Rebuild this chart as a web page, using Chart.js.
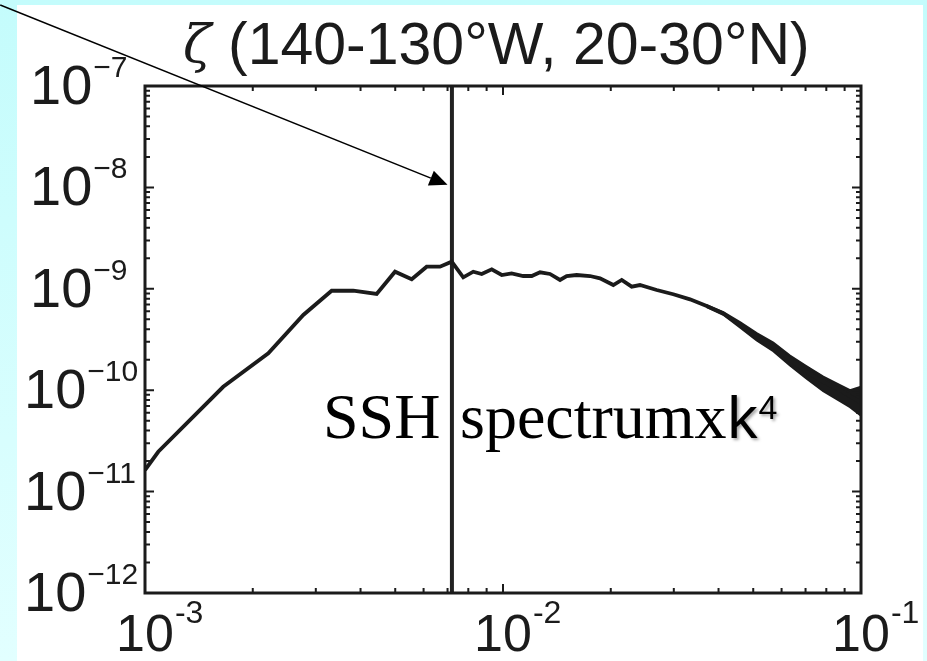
<!DOCTYPE html>
<html>
<head>
<meta charset="utf-8">
<script src="https://cdn.jsdelivr.net/npm/chart.js@4.4.1/dist/chart.umd.min.js"></script>
<style>
  html, body { margin: 0; padding: 0; background: #ffffff; }
  #wrap { width: 927px; height: 661px; }
</style>
</head>
<body>
<div id="wrap"><canvas id="spec" width="927" height="661"></canvas></div>
<script>
// wavenumber (cpkm) and spectrum x k^4
const wavenumber = [1.0e-3, 1.089e-3, 1.654e-3, 2.210e-3, 2.768e-3, 3.322e-3, 3.817e-3, 4.437e-3,
  4.993e-3, 5.559e-3, 6.120e-3, 6.668e-3, 7.19e-3, 7.745e-3, 8.26e-3, 8.72e-3,
  9.30e-3, 9.92e-3, 1.057e-2, 1.139e-2, 1.203e-2, 1.269e-2, 1.353e-2, 1.443e-2,
  1.506e-2, 1.606e-2, 1.750e-2, 1.866e-2, 2.033e-2, 2.146e-2, 2.288e-2, 2.413e-2,
  2.687e-2, 2.990e-2, 3.329e-2, 3.707e-2, 4.124e-2, 4.592e-2, 5.113e-2, 5.689e-2,
  6.333e-2, 7.05e-2, 7.846e-2, 8.738e-2, 9.73e-2, 1.0e-1];
const spectrum = [1.63e-11, 2.47e-11, 1.08e-10, 2.31e-10, 5.52e-10, 9.57e-10, 9.57e-10, 8.89e-10,
  1.475e-9, 1.241e-9, 1.652e-9, 1.652e-9, 1.85e-9, 1.298e-9, 1.475e-9, 1.40e-9,
  1.556e-9, 1.368e-9, 1.42e-9, 1.337e-9, 1.337e-9, 1.455e-9, 1.40e-9, 1.222e-9,
  1.337e-9, 1.368e-9, 1.337e-9, 1.27e-9, 1.089e-9, 1.222e-9, 1.05e-9, 1.089e-9,
  9.73e-10, 8.83e-10, 7.87e-10, 6.76e-10, 5.73e-10, 4.40e-10, 3.37e-10, 2.69e-10,
  1.99e-10, 1.52e-10, 1.21e-10, 1.00e-10, 8.0e-11, 7.48e-11];

// noisy tail at high wavenumber: upper / lower edge of the black band
const bandK = [0.03707, 0.04124, 0.04592, 0.05113, 0.05689, 0.06333, 0.07050, 0.07846, 0.08738, 0.09318, 0.1];
const bandUpper = [6.9e-10, 5.9e-10, 4.7e-10, 3.65e-10, 2.95e-10, 2.2e-10, 1.72e-10, 1.36e-10, 1.12e-10, 1.0e-10, 1.08e-10];
const bandLower = [6.6e-10, 5.55e-10, 4.15e-10, 3.1e-10, 2.42e-10, 1.75e-10, 1.3e-10, 9.8e-11, 7.8e-11, 6.8e-11, 5.6e-11];

// vertical marker line and the arrow pointing at it
const markerK = [7.2e-3, 7.2e-3];
const markerY = [1e-12, 1e-7];
const arrowK = [3.94e-4, 7.0e-3];
const arrowY = [6.3e-7, 1.06e-8];

// tick labels
const xTickValues = [1e-3, 1e-2, 1e-1];
const xTickExps = ['-3', '-2', '-1'];
const yTickValues = [1e-7, 1e-8, 1e-9, 1e-10, 1e-11, 1e-12];
const yTickExps = ['\u22127', '\u22128', '\u22129', '\u221210', '\u221211', '\u221212'];

const INK = '#1b1b1b';

function pts(xs, ys) {
  return xs.map((x, i) => ({ x: x, y: ys[i] }));
}

// minor/major tick values for a log scale
function logTicks(min, max) {
  const out = [];
  for (let e = Math.floor(Math.log10(min)); e <= Math.ceil(Math.log10(max)); e++) {
    for (let m = 1; m <= 9; m++) {
      const v = m * Math.pow(10, e);
      if (v >= min * 0.999 && v <= max * 1.001) out.push({ v: v, major: m === 1 });
    }
  }
  return out;
}

const slidePlugin = {
  id: 'slide',
  beforeDraw(chart) {
    const ctx = chart.ctx;
    const W = chart.width, H = chart.height;
    ctx.save();
    const g = ctx.createLinearGradient(0, 0, 0, H);
    g.addColorStop(0, '#c4fcfc');
    g.addColorStop(1, '#e2ffff');
    ctx.fillStyle = g;
    ctx.fillRect(0, 0, W, H);
    ctx.fillStyle = '#ffffff';
    ctx.fillRect(17, 5, 906, H - 5);
    ctx.restore();
  },
  afterDraw(chart) {
    const ctx = chart.ctx;
    const xs = chart.scales.x, ys = chart.scales.y;
    const a = chart.chartArea;
    ctx.save();

    // ticks pointing inward on all four sides
    ctx.strokeStyle = INK;
    ctx.lineWidth = 2;
    ctx.beginPath();
    logTicks(ys.min, ys.max).forEach(t => {
      const py = ys.getPixelForValue(t.v);
      const len = t.major ? 9 : 5;
      ctx.moveTo(a.left, py); ctx.lineTo(a.left + len, py);
      ctx.moveTo(a.right, py); ctx.lineTo(a.right - len, py);
    });
    logTicks(xs.min, xs.max).forEach(t => {
      const px = xs.getPixelForValue(t.v);
      const len = t.major ? 9 : 5;
      ctx.moveTo(px, a.bottom); ctx.lineTo(px, a.bottom - len);
      ctx.moveTo(px, a.top); ctx.lineTo(px, a.top + len);
    });
    ctx.stroke();

    // frame
    ctx.lineWidth = 3;
    ctx.strokeRect(a.left, a.top, a.right - a.left, a.bottom - a.top);

    // y tick labels 10^n
    ctx.fillStyle = INK;
    ctx.textBaseline = 'alphabetic';
    ctx.textAlign = 'left';
    yTickValues.forEach((v, i) => {
      const py = ys.getPixelForValue(v);
      const left = yTickExps[i].length > 2 ? 24 : 30;
      ctx.font = '56px "Liberation Sans", Arial, sans-serif';
      const w10 = ctx.measureText('10').width;
      ctx.fillText('10', left, py + 18);
      ctx.font = '30px "Liberation Sans", Arial, sans-serif';
      ctx.fillText(yTickExps[i], left + w10 + 1, py - 9);
    });

    // x tick labels 10^n
    xTickValues.forEach((v, i) => {
      const px = xs.getPixelForValue(v);
      ctx.font = '52px "Liberation Sans", Arial, sans-serif';
      const w10 = ctx.measureText('10').width;
      ctx.fillText('10', px - w10 / 2, 651);
      ctx.font = '32px "Liberation Sans", Arial, sans-serif';
      ctx.fillText(xTickExps[i], px + w10 / 2 + 1, 623);
    });

    // title
    ctx.font = 'italic 52px "DejaVu Serif", serif';
    ctx.fillText('\u03b6', 183, 62);
    ctx.font = '59px "Liberation Sans", Arial, sans-serif';
    ctx.fillText('(140-130\u00b0W, 20-30\u00b0N)', 228, 64);

    // arrow
    const x0 = xs.getPixelForValue(arrowK[0]), y0 = ys.getPixelForValue(arrowY[0]);
    const x1 = xs.getPixelForValue(arrowK[1]), y1 = ys.getPixelForValue(arrowY[1]);
    const ang = Math.atan2(y1 - y0, x1 - x0);
    const hl = 18, hw = 8;
    ctx.strokeStyle = '#000000';
    ctx.lineWidth = 1.6;
    ctx.beginPath();
    ctx.moveTo(x0, y0);
    ctx.lineTo(x1 - hl * Math.cos(ang), y1 - hl * Math.sin(ang));
    ctx.stroke();
    ctx.fillStyle = '#000000';
    ctx.beginPath();
    ctx.moveTo(x1, y1);
    ctx.lineTo(x1 - hl * Math.cos(ang) + hw * Math.sin(ang), y1 - hl * Math.sin(ang) - hw * Math.cos(ang));
    ctx.lineTo(x1 - hl * Math.cos(ang) - hw * Math.sin(ang), y1 - hl * Math.sin(ang) + hw * Math.cos(ang));
    ctx.closePath();
    ctx.fill();

    // overlay caption
    ctx.font = '64px "Liberation Serif", "Times New Roman", serif';
    ctx.fillText('SSH', 323, 438);
    ctx.fillText('spectrumx', 460, 438);
    const ws = ctx.measureText('spectrumx').width;
    ctx.save();
    ctx.shadowColor = 'rgba(0,0,0,0.35)';
    ctx.shadowBlur = 3;
    ctx.shadowOffsetX = 2;
    ctx.shadowOffsetY = 2;
    ctx.font = '60px "Liberation Sans", Arial, sans-serif';
    ctx.fillText('k', 460 + ws + 1, 438);
    const wk = ctx.measureText('k').width;
    ctx.font = '34px "Liberation Sans", Arial, sans-serif';
    ctx.fillText('4', 460 + ws + wk + 2, 419);
    ctx.restore();

    ctx.restore();
  }
};

new Chart(document.getElementById('spec'), {
  type: 'line',
  data: {
    datasets: [{
      label: 'spectrum',
      data: pts(wavenumber, spectrum),
      borderColor: INK,
      borderWidth: 3.8,
      pointRadius: 0,
      tension: 0,
      fill: false
    }, {
      label: 'band upper',
      data: pts(bandK, bandUpper),
      borderColor: INK,
      backgroundColor: INK,
      borderWidth: 2,
      pointRadius: 0,
      tension: 0,
      fill: '+1'
    }, {
      label: 'band lower',
      data: pts(bandK, bandLower),
      borderColor: INK,
      borderWidth: 2,
      pointRadius: 0,
      tension: 0,
      fill: false
    }, {
      label: 'marker',
      data: pts(markerK, markerY),
      borderColor: '#222222',
      borderWidth: 4,
      pointRadius: 0,
      fill: false
    }]
  },
  options: {
    responsive: false,
    animation: false,
    devicePixelRatio: 1,
    layout: { padding: { left: 145, right: 66, top: 86, bottom: 68 } },
    plugins: {
      legend: { display: false },
      tooltip: { enabled: false }
    },
    scales: {
      x: { type: 'logarithmic', min: 1e-3, max: 1e-1, display: false },
      y: { type: 'logarithmic', min: 1e-12, max: 1e-7, display: false }
    }
  },
  plugins: [slidePlugin]
});
</script>
</body>
</html>
